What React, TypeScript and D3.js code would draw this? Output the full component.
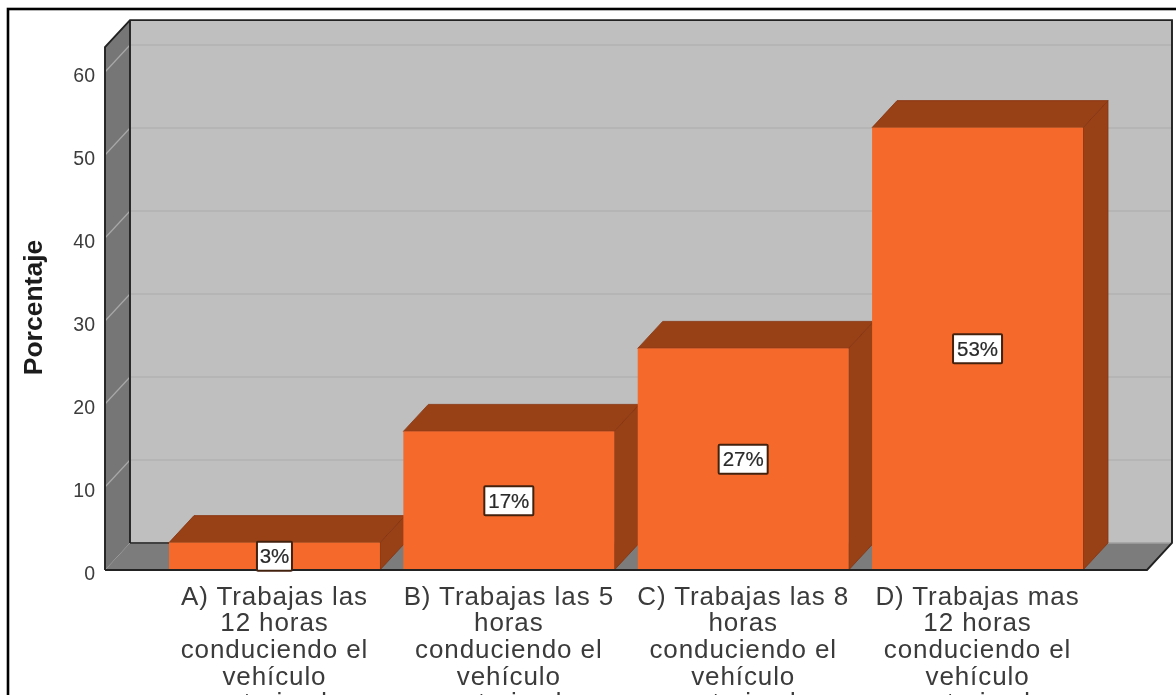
import React from "react";
import * as d3 from "d3";

const categories = ["A", "B", "C", "D"];
const values = [3.3, 16.7, 26.7, 53.3];
const valueLabels = ["3%", "17%", "27%", "53%"];
const yTicks = [0, 10, 20, 30, 40, 50, 60];
const categoryLines = [
  ["A) Trabajas las", "12 horas", "conduciendo el", "vehículo", "motorizado"],
  ["B) Trabajas las 5", "horas", "conduciendo el", "vehículo", "motorizado"],
  ["C) Trabajas las 8", "horas", "conduciendo el", "vehículo", "motorizado"],
  ["D) Trabajas mas", "12 horas", "conduciendo el", "vehículo", "motorizado"],
];
const axisTitle = "Porcentaje";

const DX = 25;
const DY = 27;
const FONT = "'Liberation Sans', Arial, sans-serif";
const labelWidths = [35, 49, 49, 49];

const y = d3.scaleLinear().domain([0, 60]).range([570, 72]);
const x = d3.scaleBand<string>().domain(categories).range([169, 1083]).paddingInner(0.1).paddingOuter(0);
const poly = (pts: number[][]) => pts.map((p) => p.join(",")).join(" ");

export default function App() {
  const y0 = y(0);
  const yMax = y(63) - DY;
  const left = 105;
  const right = 1147;
  const bw = x.bandwidth();
  return (
    <svg width={1176} height={695} style={{ position: "absolute", left: 0, top: 0, background: "#fff" }} fontFamily={FONT}>
      <defs>
        <filter id="soft" x="0" y="0" width="100%" height="100%">
          <feGaussianBlur stdDeviation="0.6" />
        </filter>
      </defs>
      <g filter="url(#soft)">
        <rect x={0} y={0} width={1176} height={695} fill="#fff" />
        <rect x={8} y={9} width={1180} height={700} fill="none" stroke="#000" strokeWidth={2.6} />

        <rect x={left + DX} y={yMax} width={right - left} height={y0 - DY - yMax} fill="#bfbfbf" />
        <polygon points={poly([[left, y0], [left + DX, y0 - DY], [right + DX, y0 - DY], [right, y0]])} fill="#7b7b7b" />
        <polygon points={poly([[left, y(63)], [left + DX, yMax], [left + DX, y0 - DY], [left, y0]])} fill="#767676" />

        {yTicks.slice(1).map((t) => (
          <g key={t}>
            <line x1={left + DX} x2={right + DX} y1={y(t) - DY} y2={y(t) - DY} stroke="#b2b2b2" strokeWidth={1.3} />
            <line x1={left} x2={left + DX} y1={y(t)} y2={y(t) - DY} stroke="#a8a8a8" strokeWidth={1.2} />
          </g>
        ))}
        <line x1={left + DX} x2={right + DX} y1={y0 - DY} y2={y0 - DY} stroke="#a0a0a0" strokeWidth={1.4} />

        <polyline points={poly([[left, y0], [left, y(63)], [left + DX, yMax], [right + DX, yMax], [right + DX, y0 - DY], [right, y0], [left, y0]])} fill="none" stroke="#222" strokeWidth={1.9} />
        <line x1={left + DX} x2={left + DX} y1={yMax} y2={y0 - DY} stroke="#222" strokeWidth={1.9} />
        <line x1={left + DX} x2={169} y1={y0 - DY} y2={y0 - DY} stroke="#222" strokeWidth={1.6} />

        {categories.map((c, i) => {
          const x0 = x(c) as number;
          const x1 = x0 + bw;
          const top = y(values[i]);
          return (
            <g key={c}>
              <polygon points={poly([[x1, y0], [x1 + DX, y0 - DY], [x1 + DX, top - DY], [x1, top]])} fill="#983f15" stroke="#87350f" strokeWidth={0.8} />
              <polygon points={poly([[x0, top], [x0 + DX, top - DY], [x1 + DX, top - DY], [x1, top]])} fill="#983f15" stroke="#87350f" strokeWidth={0.8} />
              <rect x={x0} y={top} width={bw} height={y0 - top} fill="#f5692a" />
            </g>
          );
        })}

        <line x1={left} x2={right} y1={y0} y2={y0} stroke="#222" strokeWidth={1.9} />

        {categories.map((c, i) => {
          const cx = (x(c) as number) + bw / 2;
          const cy = (y(values[i]) + y0) / 2;
          const w = labelWidths[i];
          return (
            <g key={c}>
              <rect x={cx - w / 2} y={cy - 14.5} width={w} height={29} fill="#fff" stroke="#43200f" strokeWidth={2} rx={1} />
              <text x={cx} y={cy + 7} textAnchor="middle" fontSize={20.5} fill="#2a2a2a" stroke="#2a2a2a" strokeWidth={0.2}>
                {valueLabels[i]}
              </text>
            </g>
          );
        })}

        {yTicks.map((t) => (
          <text key={t} x={95} y={y(t) + 10} textAnchor="end" fontSize={19.5} fill="#3c3c3c">
            {t}
          </text>
        ))}

        <text transform="translate(42,307.5) rotate(-90)" textAnchor="middle" fontSize={26.5} fontWeight="bold" fill="#1c1c1c">
          {axisTitle}
        </text>

        {categories.map((c, i) =>
          categoryLines[i].map((line, j) => (
            <text key={c + j} x={(x(c) as number) + bw / 2} y={604.5 + j * 26.7} textAnchor="middle" fontSize={26} letterSpacing={0.9} fill="#3a3a3a">
              {line}
            </text>
          ))
        )}
      </g>
    </svg>
  );
}
